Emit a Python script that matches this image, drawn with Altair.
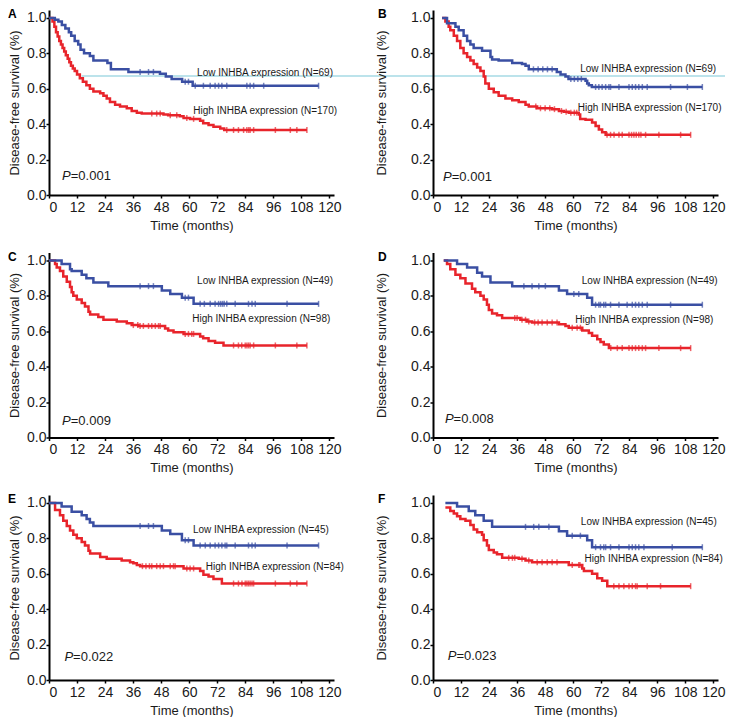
import altair as alt
import pandas as pd

FONT = "Liberation Sans"
BLUE = "#3A4FA3"
RED = "#E8242B"
CYAN = "#A6DAE4"
INK = "#1a1a1a"

X_TICKS = [0, 12, 24, 36, 48, 60, 72, 84, 96, 108, 120]
Y_TICKS = [0.0, 0.2, 0.4, 0.6, 0.8, 1.0]

# ---------------- Panel A ----------------
A_LOW_T = [0, 2.5, 4, 5.5, 7, 8.5, 9.5, 11, 12.5, 13.5, 15, 17.5, 19, 25, 26.5, 34, 47.5, 50, 52.5, 57, 61.5]
A_LOW_S = [1.0, 0.99, 0.98, 0.96, 0.94, 0.92, 0.90, 0.87, 0.85, 0.82, 0.80, 0.785, 0.76, 0.745, 0.71, 0.695, 0.685, 0.67, 0.655, 0.64, 0.617]
A_LOW_C = [39, 42.6, 44.7, 58.3, 59.7, 62.6, 66.1, 69, 71.1, 72.6, 74, 76.1, 84.7, 86.1, 87.6, 91.9, 115.4]
A_HIGH_T = [0, 1.5, 2.3, 3, 3.7, 4.4, 5.1, 5.8, 6.5, 7.2, 8, 8.7, 9.4, 10.2, 11, 12, 13.2, 14.5, 16, 17.5, 19,
            21.9, 23.3, 24.7, 26.1, 28.3, 30.4, 33.3, 35.4, 37.6, 39.7, 49, 51, 56, 57.6, 60.4, 64.7, 66, 68.3, 70.4, 73.3, 75]
A_HIGH_S = [1.0, 0.98, 0.95, 0.92, 0.895, 0.87, 0.85, 0.83, 0.81, 0.79, 0.77, 0.75, 0.73, 0.715, 0.70, 0.68, 0.66, 0.64, 0.62, 0.60, 0.585,
            0.575, 0.56, 0.545, 0.525, 0.51, 0.50, 0.49, 0.475, 0.465, 0.46, 0.455, 0.45, 0.445, 0.435, 0.43, 0.42, 0.405, 0.395, 0.385, 0.375, 0.367]
A_HIGH_C = [44, 46.1, 47.6, 51.9, 54.7, 59, 61.9, 76.1, 79, 81.1, 83.3, 84.7, 85.5, 86.1, 87.6, 96.9, 103.3, 106.1, 110.4]

# ---------------- Panel B ----------------
B_LOW_T = [3.9, 6, 9.6, 11, 13.1, 14.6, 16, 17.4, 21, 24.6, 25.3, 28.1, 33.9, 38.1, 39.6, 41, 53, 54.6, 56.7, 58, 65.3, 66, 66.7, 68]
B_LOW_S = [1.0, 0.97, 0.95, 0.93, 0.90, 0.87, 0.85, 0.83, 0.815, 0.78, 0.765, 0.76, 0.745, 0.74, 0.73, 0.71, 0.695, 0.68, 0.67, 0.655, 0.645, 0.63, 0.62, 0.61]
B_LOW_C = [43, 45, 47, 49, 51, 59, 60.5, 62, 63.5, 69.6, 71, 72.4, 73.9, 75.3, 76, 79.6, 83.9, 85.3, 86.7, 88.1, 89.6, 91.7, 101.7, 108.9, 115.3]
B_HIGH_T = [3.9, 5.3, 6.7, 7.4, 8.9, 10.3, 11.7, 13.1, 14.6, 16, 17.4, 18.9, 20.3, 21.7, 22.4, 23.9, 26, 28.1, 31, 33.9, 36.7,
            39.6, 41, 44.6, 51, 53.9, 56, 58.1, 62.4, 63, 65.3, 68.1, 69.6, 71, 72.4, 73.9]
B_HIGH_S = [1.0, 0.98, 0.95, 0.93, 0.90, 0.87, 0.83, 0.80, 0.78, 0.76, 0.74, 0.72, 0.70, 0.67, 0.63, 0.60, 0.58, 0.56, 0.545, 0.535, 0.525,
            0.51, 0.50, 0.49, 0.485, 0.475, 0.47, 0.465, 0.455, 0.43, 0.425, 0.41, 0.39, 0.37, 0.355, 0.34]
B_HIGH_C = [44, 46, 48, 50, 52, 55, 57, 59, 60.5, 61.5, 74.5, 76, 77.5, 79.6, 81, 83.9, 85, 86, 87, 88.1, 89, 91, 96.7, 106, 110.3]

# ---------------- Panel C ----------------
C_LOW_T = [0, 5.4, 9, 9.7, 14, 16, 19, 25.4, 48.3, 51.9, 56.9, 61.9]
C_LOW_S = [1.0, 0.98, 0.95, 0.94, 0.92, 0.90, 0.875, 0.855, 0.83, 0.81, 0.79, 0.755]
C_LOW_C = [39, 42.6, 44.7, 58.3, 59.7, 64.7, 66.5, 69, 71.1, 72.6, 73.5, 74.3, 75, 76.1, 79.7, 85.4, 86.9, 88.3, 101.9, 115.4]
C_HIGH_T = [0, 2.6, 3.3, 4.7, 6.1, 7.6, 9, 9.7, 10.4, 11.9, 14, 15.4, 16.9, 17.6, 21.1, 23.3, 29, 33.3, 35.4, 38.3,
            49.7, 51, 53.3, 57.6, 64.7, 66, 68.3, 71.1, 74.7]
C_HIGH_S = [1.0, 0.98, 0.96, 0.94, 0.91, 0.88, 0.85, 0.82, 0.80, 0.78, 0.76, 0.74, 0.71, 0.695, 0.68, 0.665, 0.655, 0.645, 0.635, 0.63,
            0.615, 0.605, 0.595, 0.585, 0.57, 0.56, 0.545, 0.535, 0.52]
C_HIGH_C = [36.1, 38, 39, 40.4, 42.6, 44, 45.5, 46.9, 47.6, 58.3, 59.7, 61.1, 61.9, 79, 81.1, 82.5, 84, 84.7, 85.4, 86.1, 87.6, 96.9, 106.1, 110.4]

# ---------------- Panel D ----------------
D_LOW_T = [4.6, 10.3, 14.6, 18.9, 21, 24.6, 33.9, 53.9, 57.4, 66, 68.1]
D_LOW_S = [1.0, 0.98, 0.96, 0.93, 0.91, 0.875, 0.855, 0.83, 0.81, 0.79, 0.75]
D_LOW_C = [38.9, 42.4, 45.3, 48.1, 60.3, 62.4, 69.6, 71, 71.7, 73.1, 73.9, 76, 79.6, 83.1, 85.3, 86.7, 88.1, 89.6, 91.7, 101.7, 115.3]
D_HIGH_T = [4.6, 6, 7.4, 9.6, 11.7, 13.9, 16.7, 18.1, 20.3, 21.7, 23.1, 23.9, 25.3, 27.4, 29.6, 37.4, 40.3, 42.4,
            53.9, 56.7, 58.1, 63.9, 66.7, 68.1, 70.3, 71.7, 73.1, 75.3]
D_HIGH_S = [1.0, 0.98, 0.95, 0.92, 0.90, 0.87, 0.84, 0.82, 0.80, 0.78, 0.75, 0.72, 0.70, 0.69, 0.675, 0.665, 0.655, 0.65,
            0.64, 0.63, 0.62, 0.605, 0.59, 0.575, 0.555, 0.54, 0.525, 0.505]
D_HIGH_C = [35, 36, 38.1, 39.6, 41, 43.5, 45, 46.7, 48.9, 51, 53.1, 59.6, 61.7, 63.1, 76.1, 78.9, 81, 83.9, 85.3, 86.7, 88.1, 89.6, 91, 96.7, 106, 110.3]

# ---------------- Panel E ----------------
E_LOW_T = [0, 5.4, 9.7, 14, 16.1, 17.5, 19, 48.3, 51.9, 56.9, 61.9]
E_LOW_S = [1.0, 0.98, 0.95, 0.93, 0.91, 0.89, 0.87, 0.845, 0.825, 0.79, 0.76]
E_LOW_C = [39, 42.6, 44.7, 58.3, 59.7, 64.7, 66.9, 69, 71.1, 72.6, 74, 75.4, 76.1, 79.7, 85.4, 86.9, 88.3, 101.9, 115.4]
E_HIGH_T = [0, 2.6, 4.7, 6.1, 7.6, 9, 10.4, 11.9, 14, 15.4, 16.9, 17.6, 21.9, 24.7, 31.1, 34.7, 36.1, 37.6, 39,
            57.6, 64.7, 66.1, 68.3, 70.4, 74]
E_HIGH_S = [1.0, 0.96, 0.93, 0.90, 0.87, 0.845, 0.82, 0.80, 0.78, 0.76, 0.73, 0.715, 0.695, 0.685, 0.675, 0.665, 0.66, 0.65, 0.643,
            0.63, 0.615, 0.595, 0.585, 0.57, 0.545]
E_HIGH_C = [40, 41.5, 43, 44, 46.1, 47.6, 49, 51.9, 53.3, 54, 59, 60.4, 61.9, 79, 81.1, 82.6, 84, 84.7, 85.4, 86.1, 86.9, 87.6, 96.9, 103.3, 106.1, 110.4]

# ---------------- Panel F ----------------
F_LOW_T = [5.3, 10.3, 15.3, 18.1, 21.7, 25.3, 53.9, 57.4, 66, 68.1]
F_LOW_S = [1.0, 0.98, 0.955, 0.93, 0.90, 0.865, 0.84, 0.815, 0.79, 0.75]
F_LOW_C = [39.6, 43.1, 45.3, 49.6, 59.6, 63.1, 69.6, 71.7, 73.1, 73.9, 76, 79.6, 83.9, 85.3, 86.7, 88.1, 90.3, 102.4, 115.3]
F_HIGH_T = [5.3, 7.4, 8.9, 10.3, 11.7, 13.9, 16, 17.4, 18.9, 21, 21.7, 23.1, 23.9, 26, 27.4, 29.6, 36.7, 39.6, 42.4,
            58.1, 63.9, 64.6, 68.1, 70.3, 72.4, 74.6]
F_HIGH_S = [0.975, 0.955, 0.94, 0.925, 0.91, 0.90, 0.875, 0.85, 0.835, 0.82, 0.79, 0.76, 0.735, 0.72, 0.71, 0.69, 0.685, 0.675, 0.665,
            0.65, 0.63, 0.615, 0.60, 0.575, 0.56, 0.53]
F_HIGH_C = [32.4, 34, 35, 38.1, 41, 44.6, 46.7, 48.9, 51, 53.1, 59.6, 62.4, 62.9, 77.4, 79.6, 81.7, 83.9, 85.3, 86.7, 87.4, 91.7, 97.4, 110.3]

# annotation texts and positions (month, survival)
LOW_LABELS = ["Low INHBA expression (N=69)", "Low INHBA expression (N=69)", "Low INHBA expression (N=49)",
              "Low INHBA expression (N=49)", "Low INHBA expression (N=45)", "Low INHBA expression (N=45)"]
HIGH_LABELS = ["High INHBA expression (N=170)", "High INHBA expression (N=170)", "High INHBA expression (N=98)",
               "High INHBA expression (N=98)", "High INHBA expression (N=84)", "High INHBA expression (N=84)"]
LOW_POS = [(63.4, 0.687), (63.0, 0.713), (63.4, 0.885), (63.7, 0.884), (61.6, 0.846), (63.3, 0.893)]
HIGH_POS = [(61.8, 0.477), (62.0, 0.49), (61.3, 0.668), (60.9, 0.666), (67.1, 0.637), (64.9, 0.682)]
P_VALUES = ["=0.001", "=0.001", "=0.009", "=0.008", "=0.022", "=0.023"]
P_POS = [(5.6, 0.107), (4.3, 0.10), (5.6, 0.094), (5.1, 0.103), (6.6, 0.13), (6.3, 0.137)]
LETTERS = ["A", "B", "C", "D", "E", "F"]
CYAN_LINE = (14.0, 0.672)

W, H = 285, 185


def surv_at(ts, ss, t):
    v = ss[0]
    for ti, si in zip(ts, ss):
        if ti <= t:
            v = si
    return v


def panel(idx, low_t, low_s, low_c, high_t, high_s, high_c):
    left = idx % 2 == 0
    x_enc = alt.X("t:Q", scale=alt.Scale(domain=[0, 122], nice=False, zero=False),
                  axis=alt.Axis(values=X_TICKS, title="Time (months)", labelPadding=2, titlePadding=5))
    y_enc = alt.Y("s:Q", scale=alt.Scale(domain=[0, 1.045], nice=False, zero=False),
                  axis=alt.Axis(values=Y_TICKS, format=".1f", title="Disease-free survival (%)",
                                labelPadding=0, titlePadding=5 if left else 22))
    col = alt.Color("series:N", scale=alt.Scale(domain=["Low", "High"], range=[BLUE, RED]), legend=None)

    rows = []
    for name, ts, ss, cs in [("High", high_t, high_s, high_c), ("Low", low_t, low_s, low_c)]:
        for t, s in zip(ts + [max(cs)], ss + [ss[-1]]):
            rows.append({"series": name, "t": t, "s": s})
    lines_df = pd.DataFrame(rows)
    crow = []
    for name, ts, ss, cs in [("High", high_t, high_s, high_c), ("Low", low_t, low_s, low_c)]:
        for c in cs:
            crow.append({"series": name, "t": c, "s": surv_at(ts, ss, c)})
    cens_df = pd.DataFrame(crow)

    layers = []
    if idx == 0:
        layers.append(alt.Chart(pd.DataFrame({"t": [CYAN_LINE[0]], "s": [CYAN_LINE[1]]}))
                      .mark_rule(color=CYAN, strokeWidth=1.5)
                      .encode(x=x_enc, x2=alt.value(676), y=y_enc))
    layers.append(alt.Chart(lines_df).mark_line(interpolate="step-after", strokeWidth=2.5)
                  .encode(x=x_enc, y=y_enc, color=col, detail="series:N"))
    layers.append(alt.Chart(cens_df).mark_tick(orient="vertical", size=6, thickness=1.5)
                  .encode(x=x_enc, y=y_enc, color=col))

    ann = pd.DataFrame({
        "t": [LOW_POS[idx][0], HIGH_POS[idx][0]],
        "s": [LOW_POS[idx][1], HIGH_POS[idx][1]],
        "lbl": [LOW_LABELS[idx], HIGH_LABELS[idx]],
    })
    layers.append(alt.Chart(ann).mark_text(align="left", baseline="middle", font=FONT, fontSize=10, color=INK)
                  .encode(x=x_enc, y=y_enc, text="lbl:N"))
    pdf = pd.DataFrame({"t": [P_POS[idx][0]], "s": [P_POS[idx][1]], "p": ["P"], "v": [P_VALUES[idx]]})
    layers.append(alt.Chart(pdf).mark_text(align="left", baseline="middle", font=FONT, fontSize=13,
                                           fontStyle="italic", color=INK)
                  .encode(x=x_enc, y=y_enc, text="p:N"))
    layers.append(alt.Chart(pdf).mark_text(align="left", baseline="middle", font=FONT, fontSize=13,
                                           dx=8.7, color=INK)
                  .encode(x=x_enc, y=y_enc, text="v:N"))
    ldf = pd.DataFrame({"lbl": [LETTERS[idx]]})
    layers.append(alt.Chart(ldf).mark_text(align="left", baseline="middle", font=FONT, fontSize=12,
                                           fontWeight="bold", color="black")
                  .encode(x=alt.value(-41 if left else -55), y=alt.value(4), text="lbl:N"))
    return alt.layer(*layers).properties(width=W, height=H)


data = [
    (A_LOW_T, A_LOW_S, A_LOW_C, A_HIGH_T, A_HIGH_S, A_HIGH_C),
    (B_LOW_T, B_LOW_S, B_LOW_C, B_HIGH_T, B_HIGH_S, B_HIGH_C),
    (C_LOW_T, C_LOW_S, C_LOW_C, C_HIGH_T, C_HIGH_S, C_HIGH_C),
    (D_LOW_T, D_LOW_S, D_LOW_C, D_HIGH_T, D_HIGH_S, D_HIGH_C),
    (E_LOW_T, E_LOW_S, E_LOW_C, E_HIGH_T, E_HIGH_S, E_HIGH_C),
    (F_LOW_T, F_LOW_S, F_LOW_C, F_HIGH_T, F_HIGH_S, F_HIGH_C),
]
panels = [panel(i, *d) for i, d in enumerate(data)]

chart = alt.concat(*panels, columns=2, spacing={"row": 57.5, "column": 99}, bounds="flush").properties(
    padding={"left": 0, "top": 0, "right": 0, "bottom": 0}
).configure_view(stroke=None).configure_axis(
    labelFont=FONT, titleFont=FONT, labelFontSize=14, titleFontSize=13, titleFontWeight="normal",
    labelColor=INK, titleColor=INK, domainColor="black", domainWidth=2, tickColor="black",
    tickSize=3, tickWidth=1.5, grid=False
)

chart.save("out.html", embed_options={"renderer": "svg", "actions": False})
